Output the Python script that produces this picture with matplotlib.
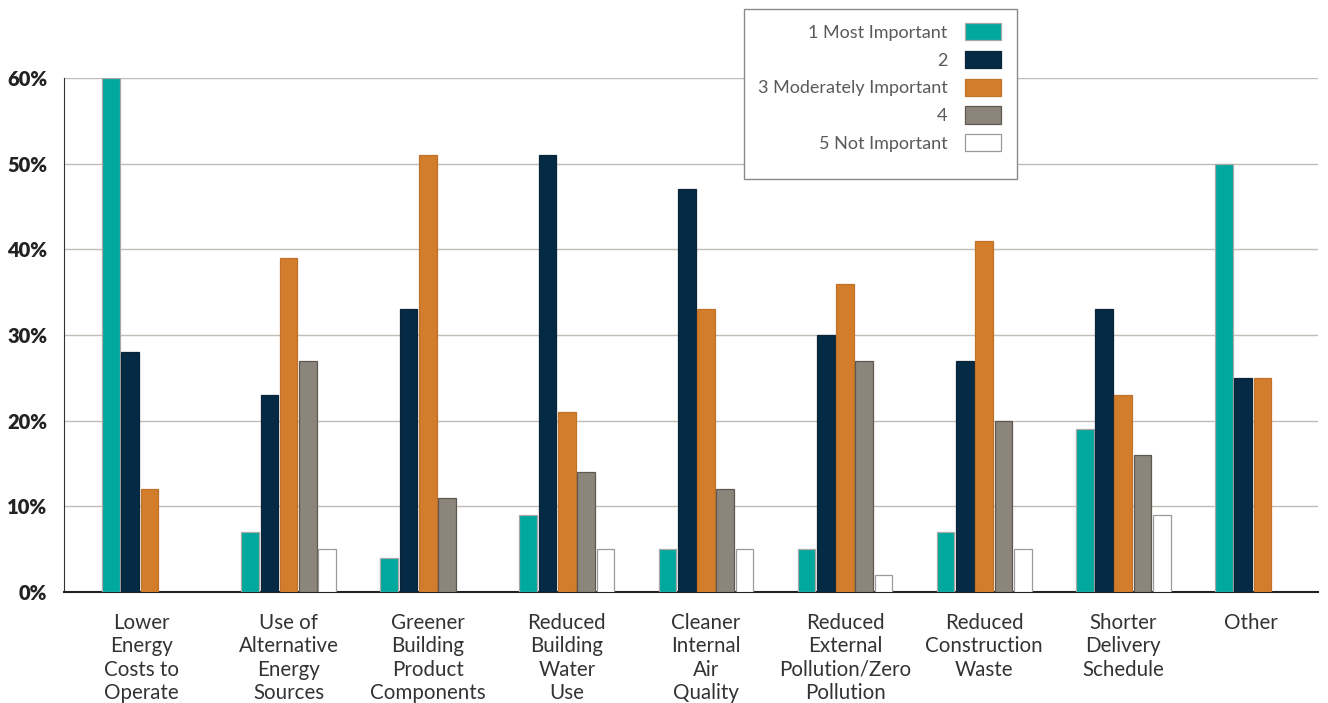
import numpy as np
import matplotlib.pyplot as plt
from matplotlib.patches import Rectangle

categories = ["Lower\nEnergy\nCosts to\nOperate", "Use of\nAlternative\nEnergy\nSources",
              "Greener\nBuilding\nProduct\nComponents", "Reduced\nBuilding\nWater\nUse",
              "Cleaner\nInternal\nAir\nQuality", "Reduced\nExternal\nPollution/Zero\nPollution",
              "Reduced\nConstruction\nWaste", "Shorter\nDelivery\nSchedule", "Other"]
series_names = ["1 Most Important", "2", "3 Moderately Important", "4", "5 Not Important"]
most_important = [60, 7, 4, 9, 5, 5, 7, 19, 50]
rank_2 = [28, 23, 33, 51, 47, 30, 27, 33, 25]
moderately = [12, 39, 51, 21, 33, 36, 41, 23, 25]
rank_4 = [0, 27, 11, 14, 12, 27, 20, 16, 0]
not_important = [0, 5, 0, 5, 5, 2, 5, 9, 0]
yticks = [0, 10, 20, 30, 40, 50, 60]

colors = ["#00A89D", "#052A45", "#D27D2C", "#8C857B", "#FFFFFF"]
edges = ["#A8A8A8", "#0A2438", "#C07228", "#5E5850", "#9A9A9A"]

fig = plt.figure(figsize=(13.28, 7.03), dpi=100)
ax = fig.add_axes([64 / 1328, 111 / 703, 1254 / 1328, 514 / 703])

x = np.arange(len(categories))
step = 0.1385
width = 0.127
all_series = [most_important, rank_2, moderately, rank_4, not_important]
for j, vals in enumerate(all_series):
    v = np.array(vals, dtype=float)
    xs = x + (j - 2) * step
    mask = v > 0
    ax.bar(xs[mask], v[mask], width=width, color=colors[j], edgecolor=edges[j],
           linewidth=0.9, label=series_names[j], zorder=3)

ax.set_xlim(-0.615, 8.40)
ax.set_ylim(0, 60)
ax.set_yticks(yticks)
ax.set_yticklabels([f"{t}%" for t in yticks], fontsize=14.5, fontweight="heavy",
                   color="#222222", family="Lato")
# label centres sit a little left of the bar groups at both ends
tick_pos = x.astype(float)
tick_pos[0] -= 0.06
tick_pos[-1] -= 0.08
ax.set_xticks(tick_pos)
ax.set_xticklabels(categories, fontsize=14.8, color="#333333", family="Lato",
                   linespacing=1.22, va="top")
ax.tick_params(axis="y", length=0, pad=12)
ax.tick_params(axis="x", length=0, pad=15)
ax.grid(axis="y", color="#C2BCB6", linewidth=1, zorder=0)
for s in ["top", "right"]:
    ax.spines[s].set_visible(False)
ax.spines["left"].set_color("#333333")
ax.spines["bottom"].set_color("#222222")
ax.spines["bottom"].set_linewidth(1.5)

# legend frame drawn separately to match reference box
fig.patches.append(Rectangle((744 / 1328, 1 - 179 / 703), 273 / 1328, 170 / 703,
                             transform=fig.transFigure, facecolor="white",
                             edgecolor="#8A8A8A", linewidth=1, zorder=5))
leg = fig.legend(loc="upper right", bbox_to_anchor=(1010 / 1328, 1 - 14 / 703),
                 markerfirst=False, frameon=False, handlelength=2.0,
                 handleheight=1.1, handletextpad=0.95, labelspacing=0.55,
                 borderpad=0, prop={"family": "Lato", "size": 13})
leg.set_zorder(6)
for t in leg.get_texts():
    t.set_color("#5A5A5A")

fig.savefig("out.png", dpi=100)
